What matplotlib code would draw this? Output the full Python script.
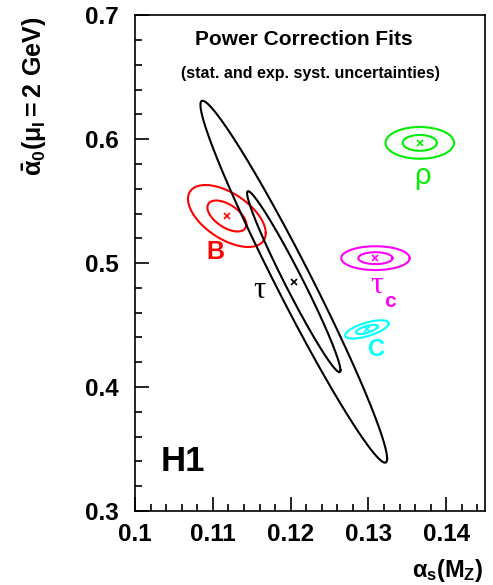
import numpy as np
import matplotlib
matplotlib.use("Agg")
import matplotlib.pyplot as plt
from matplotlib.ticker import MultipleLocator

plt.rcParams["font.family"] = ["Liberation Sans", "DejaVu Sans"]
plt.rcParams["font.weight"] = "bold"
plt.rcParams["mathtext.fontset"] = "custom"
plt.rcParams["mathtext.rm"] = "Liberation Sans:bold"
plt.rcParams["mathtext.it"] = "Liberation Sans:bold"
plt.rcParams["mathtext.bf"] = "Liberation Sans:bold"

# --- fit results: central values, errors and correlation -------------------
fit_names = ["B", "tau", "tau_c", "C", "rho"]
alpha_s   = [0.1118, 0.1204, 0.1309, 0.1298, 0.1366]
alpha_0   = [0.538, 0.485, 0.504, 0.4465, 0.597]
sigma_as  = [0.0025, 0.0060, 0.0022, 0.0014, 0.0022]
sigma_a0  = [0.0125, 0.0730, 0.0048, 0.0037, 0.0064]
corr      = [-0.55, -0.977, 0.0, 0.65, 0.0]
fit_colors = ["#ff0000", "#000000", "#ff00ff", "#00ffff", "#00ee00"]
contour_levels = [1.0, 2.0]   # n-sigma contours

x_range = (0.1, 0.145)
y_range = (0.3, 0.7)
x_ticks = [0.1, 0.11, 0.12, 0.13, 0.14]
y_ticks = [0.3, 0.4, 0.5, 0.6, 0.7]


def contour(mx, my, sx, sy, r, k, n=200):
    t = np.linspace(0, 2 * np.pi, n)
    x = mx + k * sx * np.cos(t)
    y = my + k * sy * (r * np.cos(t) + np.sqrt(1 - r * r) * np.sin(t))
    return x, y


fig = plt.figure(figsize=(4.93, 5.85), dpi=100)
ax = fig.add_axes([0.274, 0.1265, 0.71, 0.8475])

for i in range(len(fit_names)):
    for k in contour_levels:
        xs, ys = contour(alpha_s[i], alpha_0[i], sigma_as[i], sigma_a0[i], corr[i], k)
        ax.plot(xs, ys, color=fit_colors[i], lw=1.5)
    ax.plot(alpha_s[i], alpha_0[i], marker="x", ms=4, mew=1.2,
            color=fit_colors[i], ls="none")

# --- labels next to each fit ------------------------------------------------
ax.text(0.1103, 0.509, "B", color="#ff0000", fontsize=18, fontweight="bold",
        ha="center", va="center")
ax.text(0.1160, 0.478, "τ", color="black", fontsize=22, fontweight="normal",
        ha="center", va="center", family="Liberation Serif")
ax.text(0.1310, 0.482, "τ", color="#ff00ff", fontsize=23, fontweight="normal",
        ha="center", va="center", family="Liberation Serif")
ax.text(0.1328, 0.469, "c", color="#ff00ff", fontsize=15, fontweight="bold",
        ha="center", va="center")
ax.text(0.1311, 0.430, "C", color="#00ffff", fontsize=17, fontweight="bold",
        ha="center", va="center")
ax.text(0.1369, 0.570, "ρ", color="#00ee00", fontsize=21, fontweight="normal",
        ha="center", va="center")

ax.text(0.483, 0.952, "Power Correction Fits", transform=ax.transAxes,
        ha="center", va="center", fontsize=15, fontweight="bold")
ax.text(0.50, 0.882, "(stat. and exp. syst. uncertainties)", transform=ax.transAxes,
        ha="center", va="center", fontsize=11.5, fontweight="bold")
ax.text(0.137, 0.099, "H1", transform=ax.transAxes,
        ha="center", va="center", fontsize=25, fontweight="bold")

# --- axes ---------------------------------------------------------------------
ax.set_xlim(*x_range)
ax.set_ylim(*y_range)
ax.set_xticks(x_ticks)
ax.set_yticks(y_ticks)
ax.set_xticklabels([f"{v:g}" for v in x_ticks])
ax.set_yticklabels([f"{v:g}" for v in y_ticks])
ax.xaxis.set_minor_locator(MultipleLocator(0.002))
ax.yaxis.set_minor_locator(MultipleLocator(0.02))
ax.tick_params(which="both", direction="in", top=False, right=False,
               labelsize=17.5, width=1.2)
ax.tick_params(which="major", length=10, pad=9)
ax.tick_params(which="minor", length=5)
ax.tick_params(axis="y", pad=12)
for lab in ax.get_xticklabels() + ax.get_yticklabels():
    lab.set_fontweight("bold")
for sp in ax.spines.values():
    sp.set_linewidth(1.2)

fig.text(0.071, 0.836, r"$\bar{\alpha}_0(\mu_I = 2\ \mathrm{GeV})$",
         rotation=90, ha="center", va="center", fontsize=18)
fig.text(0.98, 0.025, r"$\alpha_s(M_Z)$", ha="right", va="center", fontsize=17)

fig.savefig("out.png", dpi=100)
